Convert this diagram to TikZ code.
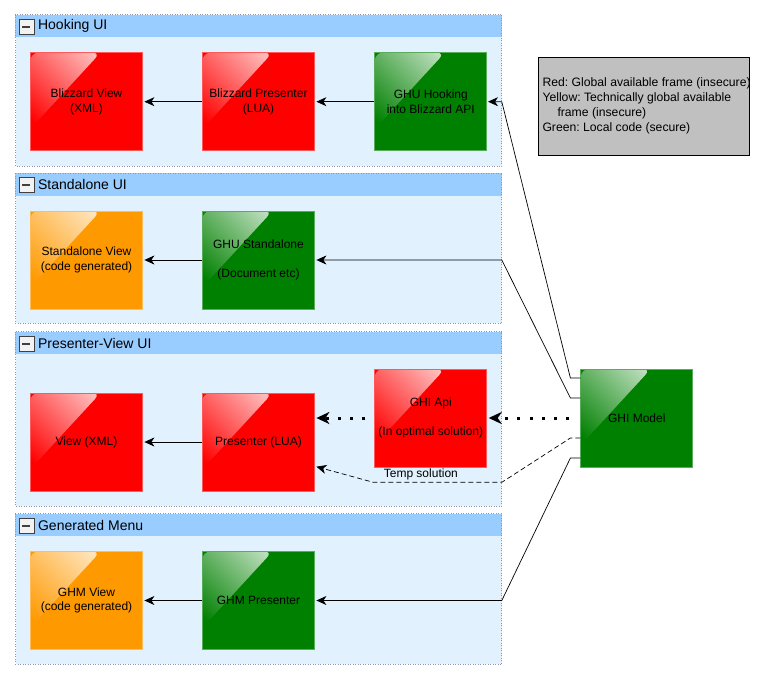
\documentclass[tikz,border=0pt]{standalone}
\usepackage{fontspec}
\setmainfont{Liberation Sans}
\usetikzlibrary{arrows.meta}
\frenchspacing

\definecolor{boxred}{RGB}{255,0,0}
\definecolor{boxgreen}{RGB}{0,128,0}
\definecolor{boxorange}{RGB}{255,153,0}
\definecolor{groupfill}{RGB}{225,241,253}
\definecolor{grouphead}{RGB}{153,204,255}
\definecolor{groupline}{RGB}{140,150,185}
\definecolor{legendgray}{RGB}{192,192,192}

\tikzset{
  block/.style={fill=#1, draw=#1!65!white, line width=0.8pt,
    minimum width=112pt, minimum height=98pt, inner sep=0pt, align=center,
    font=\fontsize{12}{14.5}\selectfont,
    path picture={
      \begin{scope}
        \clip[rounded corners=8pt] (path picture bounding box.north west) -- ++(70pt,0pt)
          -- ++(-70pt,-76pt) -- cycle;
        \shade[top color=white!85!#1, middle color=#1!80!white, bottom color=#1, shading angle=-45]
          (path picture bounding box.north west) rectangle (path picture bounding box.south east);
      \end{scope}}},
  group/.style={fill=groupfill, inner sep=0pt, minimum width=486pt},
  groupborder/.style={draw=groupline, line width=0.8pt, dash pattern=on 1pt off 1.5pt},
  icon/.style={draw=black!75, fill=black!5, line width=0.7pt, minimum size=15pt, inner sep=0pt,
    path picture={\draw[line width=2pt] ([xshift=3.5pt]path picture bounding box.west)
      -- ([xshift=-3.5pt]path picture bounding box.east);}},
  headtitle/.style={anchor=west, inner sep=0pt, font=\fontsize{14}{16}\selectfont},
  rowarrow/.style={-{Stealth[length=10pt,width=9pt,inset=3pt]}, line width=0.8pt, shorten >=1.5pt},
  link/.style={-{Stealth[length=10pt,width=9pt,inset=3pt]}, line width=0.7pt},
  dotlink/.style={-{Stealth[length=13pt,width=12pt,inset=4pt]}, line width=3pt,
    dash pattern=on 3pt off 9.3pt},
  legend/.style={draw=black, fill=legendgray, line width=0.8pt, inner sep=0pt,
    minimum width=211pt, minimum height=98pt},
  legendtext/.style={anchor=west, inner sep=0pt, align=left, font=\fontsize{12.2}{15}\selectfont}
}

\begin{document}
\begin{tikzpicture}[x=1pt, y=-1pt]
  \useasboundingbox (0,0) rectangle (765,680);

  % groups
  \node[group, minimum height=151pt] (hooking) at (258.6,90.5) {};
  \node[group, minimum height=150pt] (standalone) at (258.6,248.2) {};
  \node[group, minimum height=174pt] (presview) at (258.6,418.7) {};
  \node[group, minimum height=150pt] (generated) at (258.6,589) {};
  \foreach \c/\t in {hooking/Hooking UI, standalone/Standalone UI,
                     presview/Presenter-View UI, generated/Generated Menu}
  {
    \fill[grouphead] (\c.north west) rectangle ([yshift=-22.5pt]\c.north east);
    \draw[groupborder] (\c.north west) rectangle (\c.south east);
    \node[icon] (\c-icon) at ([xshift=11pt,yshift=-12pt]\c.north west) {};
    \node[headtitle] (\c-title) at ([xshift=22.5pt,yshift=-11.5pt]\c.north west) {\t};
  }

  % blocks
  \node[block=boxred] (bview) at (86.5,101.7) {Blizzard View\\(XML)};
  \node[block=boxred] (bpres) at (258.5,101.7) {Blizzard Presenter\\(LUA)};
  \node[block=boxgreen] (ghuhook) at (430.8,101.7) {GHU Hooking\\into Blizzard API};

  \node[block=boxorange] (saview) at (86.5,260) {Standalone View\\(code generated)};
  \node[block=boxgreen] (ghustand) at (258.5,260) {GHU Standalone\\[14.5pt](Document etc)};

  \node[block=boxred] (view) at (86.5,442) {View (XML)};
  \node[block=boxred] (presenter) at (258.5,442) {Presenter (LUA)};
  \node[block=boxred] (ghiapi) at (430.8,418) {GHI Api\\[14.5pt](In optimal solution)};

  \node[block=boxorange] (ghmview) at (86.5,600.5) {GHM View\\(code generated)};
  \node[block=boxgreen] (ghmpres) at (258.5,600.5) {GHM Presenter};

  \node[block=boxgreen] (ghimodel) at (636.8,418) {GHI Model};

  % legend
  \node[legend] (legendbox) at (643.8,106.2) {};
  \node[legendtext] (legendtxt) at (542.3,106.3)
    {Red: Global available frame (insecure)\\Yellow: Technically global available\\
     \hspace*{15pt}frame (insecure)\\Green: Local code (secure)};

  % arrows inside the groups
  \draw[rowarrow] (bpres) -- (bview);
  \draw[rowarrow] (ghuhook) -- (bpres);
  \draw[rowarrow] (ghustand) -- (saview);
  \draw[rowarrow] (presenter) -- (view);
  \draw[rowarrow] (ghmpres) -- (ghmview);

  % links from the model
  \draw[link] ([yshift=40pt]ghimodel.west) -- ++(-10,0) -- (ghuhook.east -| hooking.east)
    -- ([xshift=0.8pt]ghuhook.east);
  \draw[link] ([yshift=20pt]ghimodel.west) -- ++(-10,0) -- (ghustand.east -| standalone.east)
    -- ([xshift=1.5pt]ghustand.east);
  \draw[dotlink] ([xshift=-11pt]ghimodel.west) -- ([xshift=1.5pt]ghiapi.east);
  \draw[dotlink] ([xshift=-9pt]ghiapi.west) -- ([xshift=1.5pt]presenter.east |- ghiapi);
  \coordinate (tempbend) at (373.3,482.3);
  \draw[link, dash pattern=on 5pt off 3pt] ([yshift=-20pt]ghimodel.west) -- ++(-10,0)
    -- (tempbend -| presview.east)
    -- node[pos=0.63, above=-1pt, font=\fontsize{12}{14}\selectfont] (templabel) {Temp solution}
    (tempbend) -- ([xshift=1.5pt,yshift=-24.7pt]presenter.east);
  \draw[link] ([yshift=-40pt]ghimodel.west) -- ++(-10,0) -- (ghmpres.east -| generated.east)
    -- ([xshift=1.5pt]ghmpres.east);
\end{tikzpicture}
\end{document}
